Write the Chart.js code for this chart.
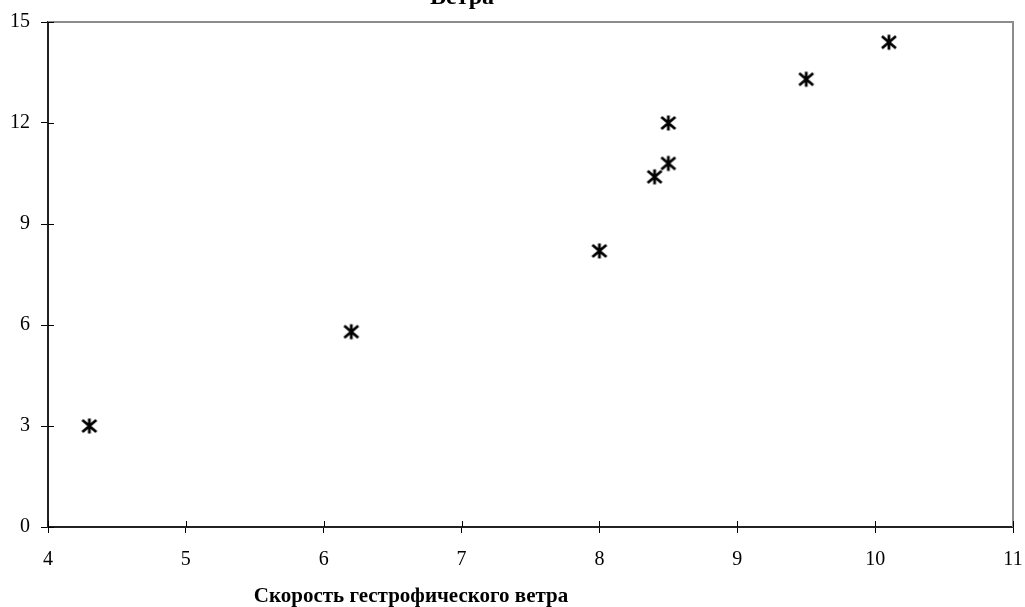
<!DOCTYPE html>
<html>
<head>
<meta charset="utf-8">
<script src="https://cdn.jsdelivr.net/npm/chart.js@4.4.0/dist/chart.umd.min.js"></script>
<style>
  html, body { margin: 0; padding: 0; background: #fff; }
  #wrap { width: 1025px; height: 607px; position: relative; }
</style>
</head>
<body>
<div id="wrap"><canvas id="chart"></canvas></div>
<script>
// Data
const windGeo = [4.3, 6.2, 8.0, 8.4, 8.5, 8.5, 9.5, 10.1];
const windObs = [3.0, 5.8, 8.2, 10.4, 10.8, 12.0, 13.3, 14.4];
const titleText = 'Ветра';
const xTitleText = 'Скорость гестрофического ветра';

const serif = '"Liberation Serif", "DejaVu Serif", serif';

// Excel-like star marker: X with a vertical bar
function makeStar(size) {
    const c = document.createElement('canvas');
    c.width = size; c.height = size;
    const g = c.getContext('2d');
    const m = size / 2;
    g.strokeStyle = '#000';
    g.lineWidth = 2.8;
    g.beginPath();
    g.moveTo(m - 7, m - 6); g.lineTo(m + 7, m + 6);
    g.moveTo(m + 7, m - 6); g.lineTo(m - 7, m + 6);
    g.moveTo(m, m - 7.5); g.lineTo(m, m + 7.5);
    g.stroke();
    return c;
}

// Frame, inner tick marks and titles
const decor = {
    id: 'decor',
    beforeDatasetsDraw(chart) {
        const { ctx, chartArea: a, scales } = chart;
        ctx.save();
        ctx.strokeStyle = '#8c8c8c';
        ctx.lineWidth = 2;
        ctx.beginPath();
        ctx.moveTo(a.left, a.top); ctx.lineTo(a.right, a.top); ctx.lineTo(a.right, a.bottom);
        ctx.stroke();
        ctx.strokeStyle = '#000';
        ctx.lineWidth = 1;
        ctx.beginPath();
        scales.x.ticks.forEach(t => {
            const px = Math.round(scales.x.getPixelForValue(t.value)) + 0.5;
            ctx.moveTo(px, a.bottom); ctx.lineTo(px, a.bottom - 6);
        });
        scales.y.ticks.forEach(t => {
            const py = Math.round(scales.y.getPixelForValue(t.value)) + 0.5;
            ctx.moveTo(a.left, py); ctx.lineTo(a.left + 6, py);
        });
        ctx.stroke();
        ctx.restore();
    },
    afterDraw(chart) {
        const ctx = chart.ctx;
        ctx.save();
        ctx.fillStyle = '#000';
        ctx.textAlign = 'center';
        ctx.textBaseline = 'alphabetic';
        ctx.font = 'bold 24px ' + serif;
        ctx.fillText(titleText, 462, 4);
        ctx.font = 'bold 21px ' + serif;
        ctx.fillText(xTitleText, 411, 602);
        ctx.restore();
    }
};

const ctx = document.getElementById('chart').getContext('2d');
new Chart(ctx, {
    type: 'scatter',
    data: {
        datasets: [{
            data: windGeo.map((x, i) => ({ x: x, y: windObs[i] })),
            pointStyle: makeStar(20),
            pointRadius: 10,
            pointHoverRadius: 10
        }]
    },
    options: {
        responsive: true,
        maintainAspectRatio: false,
        animation: false,
        layout: { padding: { top: 22, right: 12, left: 0, bottom: 0 } },
        plugins: {
            legend: { display: false },
            tooltip: { enabled: false },
            title: { display: false }
        },
        scales: {
            x: {
                type: 'linear',
                min: 4, max: 11,
                ticks: { stepSize: 1, color: '#000', font: { family: serif, size: 20 }, padding: 15 },
                grid: { drawOnChartArea: false, tickLength: 6, color: '#000' },
                border: { color: '#222', width: 2 },
                afterFit(s) { s.height = 80; s.paddingLeft = 0; s.paddingRight = 0; }
            },
            y: {
                min: 0, max: 15,
                ticks: { stepSize: 3, color: '#000', font: { family: serif, size: 20 }, padding: 11 },
                grid: { drawOnChartArea: false, tickLength: 7, color: '#000' },
                border: { color: '#222', width: 2 },
                afterFit(s) { s.width = 48; s.paddingTop = 0; s.paddingBottom = 0; }
            }
        }
    },
    plugins: [decor]
});
</script>
</body>
</html>
